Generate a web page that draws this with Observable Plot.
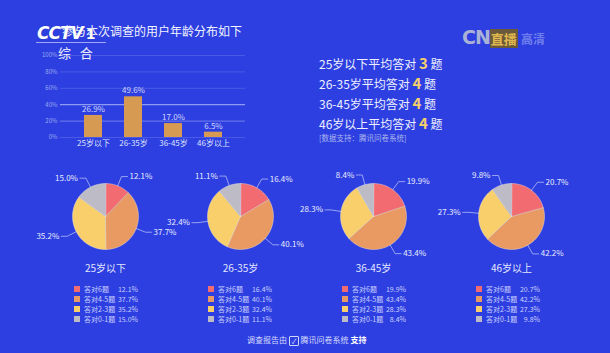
<!DOCTYPE html>
<html>
<head>
<meta charset="utf-8">
<script src="https://cdn.jsdelivr.net/npm/d3@7"></script>
<script src="https://cdn.jsdelivr.net/npm/@observablehq/plot@0.6"></script>
<style>
  html, body { margin: 0; padding: 0; background: #2d3fe0; }
  #chart { position: relative; width: 610px; height: 353px; background: #2d3fe0; overflow: hidden;
    font-family: "Noto Sans CJK SC", "Noto Sans", sans-serif; color: #fff; }
  .abs { position: absolute; white-space: nowrap; }
  .plot { position: absolute; }
</style>
</head>
<body>
<div id="chart"></div>
<script>
// ---------- data ----------
const ageGroups = ["25岁以下", "26-35岁", "36-45岁", "46岁以上"];
const ageShare = [26.9, 49.6, 17.0, 6.5];
const yTicks = [0, 20, 40, 60, 80, 100];
const avgCorrect = [3, 4, 4, 4];
const answerCats = ["答对6题", "答对4-5题", "答对2-3题", "答对0-1题"];
const shareUnder25 = [12.1, 37.7, 35.2, 15.0];
const share26to35 = [16.4, 40.1, 32.4, 11.1];
const share36to45 = [19.9, 43.4, 28.3, 8.4];
const share46plus = [20.7, 42.2, 27.3, 9.8];
const pieShares = [shareUnder25, share26to35, share36to45, share46plus];

const sliceColors = ["#f26b70", "#e89a62", "#f8cf6b", "#bdbcc6"];
const chart = document.getElementById("chart");

function addDiv(html, style) {
  const d = document.createElement("div");
  d.className = "abs";
  d.innerHTML = html;
  Object.assign(d.style, style);
  chart.appendChild(d);
  return d;
}

// ---------- title ----------
addDiv("参与本次调查的用户年龄分布如下", {left: "62px", top: "24px", fontSize: "12px", lineHeight: "14px", color: "#f2f4ff"});

// ---------- bar chart ----------
const barData = ageGroups.map((a, i) => ({age: a, share: ageShare[i]}));
const bar = Plot.plot({
  width: 270, height: 160,
  marginTop: 55, marginBottom: 23, marginLeft: 60, marginRight: 25,
  style: {background: "transparent", fontFamily: "Noto Sans CJK SC, sans-serif", overflow: "visible"},
  x: {domain: ageGroups, padding: 0.56, label: null, tickSize: 0, tickPadding: 3},
  y: {domain: [0, 100], ticks: yTicks, tickFormat: d => d + "%", label: null, tickSize: 0, tickPadding: 3},
  marks: [
    Plot.ruleY(yTicks, {stroke: "#ffffff", strokeOpacity: 0.14, strokeWidth: 1}),
    Plot.ruleY([40], {stroke: "#c9d2ff", strokeOpacity: 0.7, strokeWidth: 1}),
    Plot.ruleY([20], {stroke: "#c9d2ff", strokeOpacity: 0.3, strokeWidth: 1}),
    Plot.barY(barData, {x: "age", y: "share", fill: "#d79a52"}),
    Plot.text(barData, {x: "age", y: "share", text: d => d.share.toFixed(1) + "%", dy: -6, fill: "#cfd6ff", fontSize: 8}),
    Plot.axisX({tickSize: 0, tickPadding: 3, fontSize: 8, color: "#dfe4ff", label: null}),
    Plot.axisY({ticks: yTicks, tickFormat: d => d + "%", tickSize: 0, tickPadding: 3, fontSize: 6, color: "#9eaaf0", label: null})
  ]
});
bar.classList.add("plot");
bar.style.left = "0px"; bar.style.top = "0px";
chart.appendChild(bar);

// ---------- CCTV logo overlay ----------
addDiv('<span style="font-family:DejaVu Sans;font-weight:bold;font-style:italic;letter-spacing:-1px;">CCTV</span><span style="font-family:DejaVu Sans;font-weight:bold;font-size:14px;margin-left:3px;">1</span>',
  {left: "37px", top: "22px", fontSize: "17px", lineHeight: "20px", color: "#ffffff", textShadow: "0 0 1px #1a2bb0"});
addDiv("", {left: "36px", top: "42px", width: "70px", height: "1px", background: "rgba(255,255,255,0.55)"});
addDiv("综&nbsp;&nbsp;&nbsp;合", {left: "58px", top: "45px", fontSize: "13px", lineHeight: "15px", color: "#f4f6ff"});

// ---------- CN 直播 watermark ----------
addDiv('<span style="font-family:DejaVu Sans;font-weight:bold;font-size:19px;color:#a9b2d6;letter-spacing:-1px;">CN</span><span style="font-weight:bold;font-size:13px;color:#e0b84e;background:#6b5a3a;padding:0 1px;">直播</span><span style="font-weight:bold;font-size:12px;color:rgba(200,210,255,0.45);margin-left:3px;">高清</span>',
  {left: "462px", top: "26px", lineHeight: "22px"});

// ---------- right text block ----------
ageGroups.forEach((a, i) => {
  addDiv(a + '平均答对 <span style="color:#f3cf6e;font-size:15px;font-weight:bold;">' + avgCorrect[i] + '</span> 题',
    {left: "319px", top: (53 + i * 20) + "px", fontSize: "12px", lineHeight: "20px", color: "#eef0ff"});
});
addDiv("[数据支持：腾讯问卷系统]", {left: "319px", top: "133px", fontSize: "7.5px", lineHeight: "10px", color: "#aab4ee"});

// ---------- pies ----------
const pieCx = [105, 240, 373, 511];
const pieCy = 216;
const R = 33;
pieShares.forEach((shares, p) => {
  const total = d3.sum(shares);
  let acc = 0;
  const polys = [];
  const leaders = [];
  const labels = [];
  shares.forEach((v, k) => {
    const a0 = acc / total * 2 * Math.PI;
    acc += v;
    const a1 = acc / total * 2 * Math.PI;
    const cat = answerCats[k];
    polys.push({cat, x: 0, y: 0});
    const n = Math.max(2, Math.ceil((a1 - a0) / 0.02));
    for (let s = 0; s <= n; s++) {
      const a = a0 + (a1 - a0) * s / n;
      polys.push({cat, x: R * Math.sin(a), y: -R * Math.cos(a)});
    }
    const am = (a0 + a1) / 2;
    const sx = Math.sin(am), cy = Math.cos(am);
    const side = sx >= 0 ? 1 : -1;
    const ex = (R + 10) * sx, ey = -(R + 10) * cy;
    leaders.push({cat, x: R * sx, y: -R * cy});
    leaders.push({cat, x: ex, y: ey});
    leaders.push({cat, x: ex + side * 6, y: ey});
    labels.push({x: ex + side * 8, y: ey, text: v.toFixed(1) + "%", anchor: side > 0 ? "start" : "end"});
  });
  const pie = Plot.plot({
    width: 170, height: 120,
    margin: 0,
    style: {background: "transparent", fontFamily: "Noto Sans CJK SC, sans-serif", overflow: "visible"},
    x: {domain: [-85, 85], range: [0, 170], axis: null},
    y: {domain: [-58, 62], range: [0, 120], axis: null},
    color: {domain: answerCats, range: sliceColors},
    marks: [
      Plot.line(polys, {x: "x", y: "y", z: "cat", fill: "cat", stroke: "#f4f0e8", strokeWidth: 0.5, strokeOpacity: 0.8, curve: "linear-closed"}),
      Plot.line(leaders, {x: "x", y: "y", z: "cat", stroke: "#d6ddff", strokeWidth: 0.7, strokeOpacity: 0.9}),
      Plot.text(labels.filter(d => d.anchor === "start"), {x: "x", y: "y", text: "text", textAnchor: "start", fill: "#e8ecff", fontSize: 8}),
      Plot.text(labels.filter(d => d.anchor === "end"), {x: "x", y: "y", text: "text", textAnchor: "end", fill: "#e8ecff", fontSize: 8}),
      Plot.text([ageGroups[p]], {x: () => 0, y: () => 52, text: d => d, fill: "#e2e6ff", fontSize: 10})
    ]
  });
  pie.classList.add("plot");
  pie.style.left = (pieCx[p] - 85) + "px";
  pie.style.top = (pieCy - 58) + "px";
  chart.appendChild(pie);
});

// ---------- legends ----------
const legendX = [74, 208, 342, 476];
pieShares.forEach((shares, p) => {
  answerCats.forEach((c, k) => {
    const top = 284 + k * 10;
    addDiv("", {left: legendX[p] + "px", top: (top + 2) + "px", width: "6px", height: "6px", background: sliceColors[k]});
    addDiv(c, {left: (legendX[p] + 10) + "px", top: top + "px", fontSize: "7px", lineHeight: "10px", color: "#c9d0ff"});
    const v = addDiv(shares[k].toFixed(1) + "%", {left: (legendX[p] + 34) + "px", top: top + "px", width: "30px", textAlign: "right", fontSize: "7px", lineHeight: "10px", color: "#c9d0ff"});
  });
});

// ---------- footer ----------
addDiv('调查报告由 <span style="display:inline-block;width:8px;height:8px;border:1px solid #cfd6ff;border-radius:1px;font-size:7px;line-height:8px;text-align:center;vertical-align:-1px;">✓</span> 腾讯问卷系统 <b style="color:#fff;">支持</b>',
  {left: "247px", top: "334px", fontSize: "8px", lineHeight: "12px", color: "#d6dbff"});
</script>
</body>
</html>
